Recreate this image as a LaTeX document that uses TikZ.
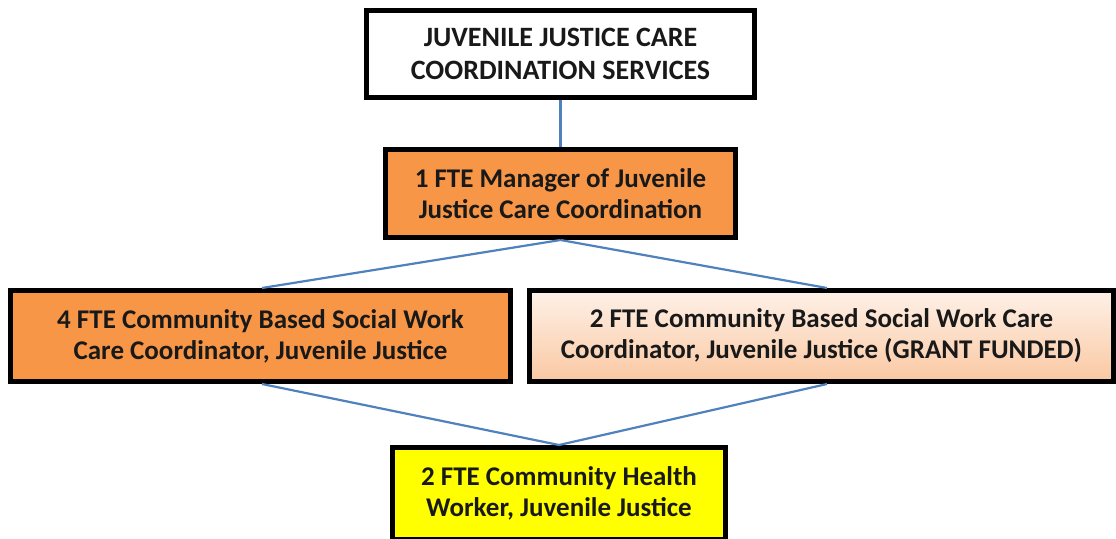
\documentclass[tikz,border=0pt]{standalone}
\usepackage{fontspec}
\setmainfont{Carlito}
\usetikzlibrary{shadows}
\definecolor{orng}{HTML}{F79646}
\definecolor{peachtop}{HTML}{FEF1E8}
\definecolor{peachbot}{HTML}{FAC8A2}
\definecolor{lnblue}{HTML}{4F81BD}
\definecolor{ylw}{HTML}{FFFF00}
\begin{document}
\begin{tikzpicture}[x=1pt,y=-1pt,
  box/.style={draw=black, line width=5pt, rectangle, inner sep=0pt, align=center,
    font=\fontsize{27}{31}\selectfont\bfseries, text=black!90,
    drop shadow={shadow xshift=2pt, shadow yshift=-2pt, opacity=0.25, fill=black}},
  link/.style={draw=lnblue, line width=2.2pt}]
\useasboundingbox (0,0) rectangle (1116,538);
\node[box, fill=white, minimum width=388pt, minimum height=87pt,
  font=\fontsize{28}{33}\selectfont\bfseries] (top) at (560.5,54)
  {JUVENILE JUSTICE CARE\\COORDINATION SERVICES};
\node[box, fill=orng, minimum width=350pt, minimum height=88pt] (mgr) at (560.5,193.5)
  {1 FTE Manager of Juvenile\\Justice Care Coordination};
\node[box, fill=orng, minimum width=500pt, minimum height=91pt] (left) at (260.5,336)
  {4 FTE Community Based Social Work\\Care Coordinator, Juvenile Justice};
\node[box, top color=peachtop, bottom color=peachbot, minimum width=584pt, minimum height=91pt] (right) at (821.5,336)
  {2 FTE Community Based Social Work Care\\Coordinator, Juvenile Justice (GRANT FUNDED)};
\node[box, fill=ylw, minimum width=333pt, minimum height=92pt] (chw) at (559,493.5)
  {2 FTE Community Health\\Worker, Juvenile Justice};
\coordinate (lt) at ([xshift=1.5pt]left.north);
\coordinate (lb) at ([xshift=1.5pt]left.south);
\coordinate (rt) at ([xshift=5.5pt]right.north);
\coordinate (rb) at ([xshift=5.5pt]right.south);
\draw[link] (top.south) -- (mgr.north);
\draw[link] (mgr.south) -- (lt);
\draw[link] (mgr.south) -- (rt);
\draw[link] (lb) -- (chw.north);
\draw[link] (rb) -- (chw.north);
\end{tikzpicture}
\end{document}
